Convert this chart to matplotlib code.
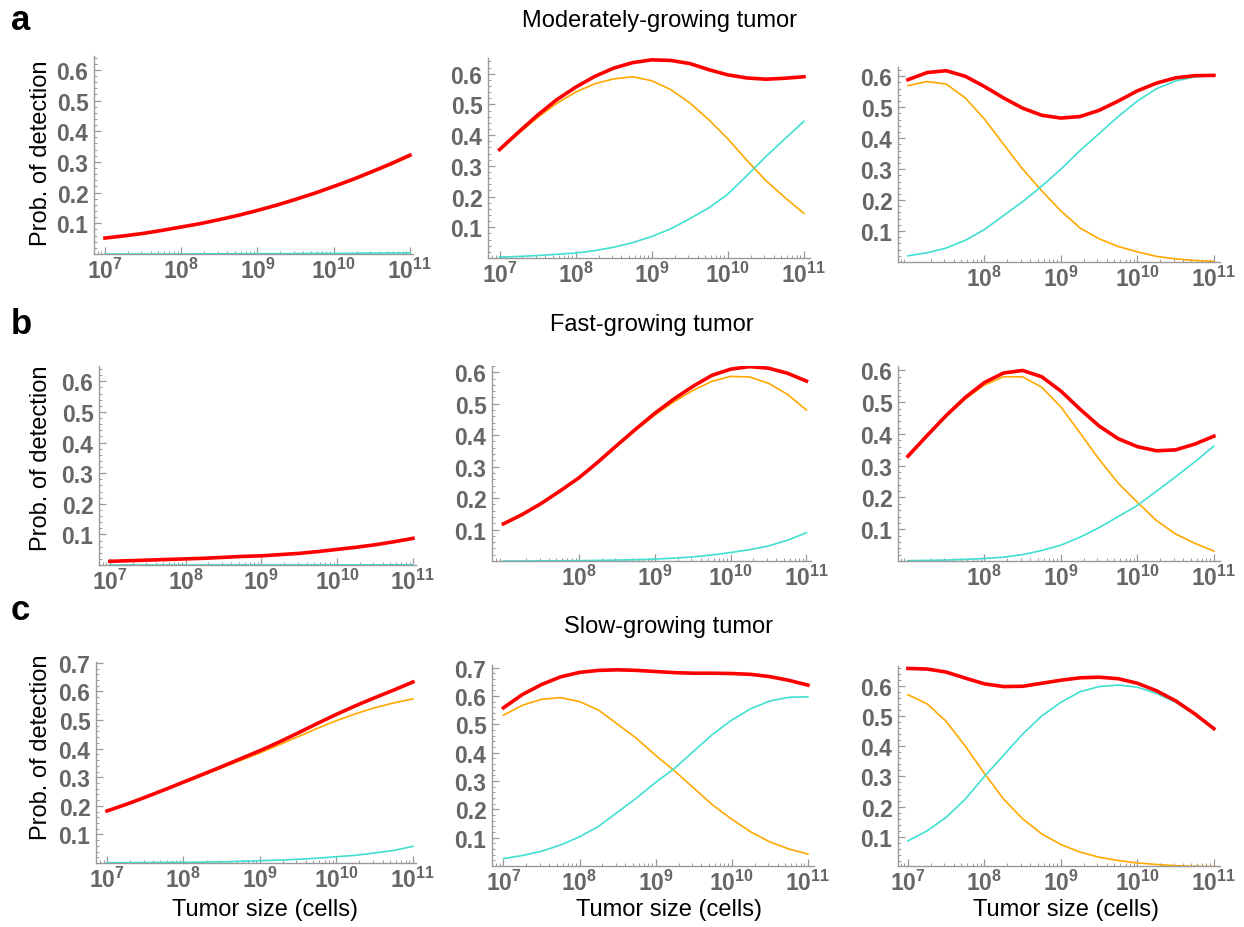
import matplotlib
matplotlib.use("Agg")
import matplotlib.pyplot as plt
from matplotlib.ticker import FixedLocator, FixedFormatter, LogLocator, NullFormatter, MultipleLocator

plt.rcParams['font.family'] = ['Liberation Sans', 'DejaVu Sans']
plt.rcParams['mathtext.fontset'] = 'custom'
plt.rcParams['mathtext.rm'] = 'Liberation Sans'
plt.rcParams['mathtext.bf'] = 'Liberation Sans:bold'

# ---------------- data ----------------
tumor_size = [1.00e7, 1.78e7, 3.16e7, 5.62e7, 1.00e8, 1.78e8, 3.16e8, 5.62e8,
              1.00e9, 1.78e9, 3.16e9, 5.62e9, 1.00e10, 1.78e10, 3.16e10, 5.62e10, 1.00e11]

# row a: moderately-growing tumor
a1_red    = [0.052, 0.059, 0.067, 0.077, 0.088, 0.099, 0.112, 0.126, 0.142, 0.159, 0.178, 0.198, 0.220, 0.243, 0.268, 0.294, 0.322]
a1_orange = [0.052, 0.059, 0.067, 0.077, 0.088, 0.098, 0.111, 0.125, 0.141, 0.158, 0.176, 0.196, 0.218, 0.240, 0.265, 0.290, 0.318]
a1_cyan   = [0.000, 0.000, 0.000, 0.000, 0.000, 0.0005, 0.0005, 0.001, 0.001, 0.001, 0.0015, 0.002, 0.002, 0.0025, 0.003, 0.0035, 0.004]

a2_red    = [0.353, 0.410, 0.465, 0.515, 0.556, 0.591, 0.618, 0.636, 0.645, 0.643, 0.633, 0.613, 0.596, 0.586, 0.582, 0.585, 0.590]
a2_orange = [0.350, 0.405, 0.457, 0.503, 0.540, 0.567, 0.583, 0.590, 0.577, 0.548, 0.505, 0.450, 0.388, 0.318, 0.252, 0.197, 0.145]
a2_cyan   = [0.003, 0.005, 0.008, 0.012, 0.016, 0.024, 0.035, 0.050, 0.070, 0.095, 0.128, 0.163, 0.208, 0.268, 0.330, 0.388, 0.445]

a3_red    = [0.589, 0.612, 0.618, 0.600, 0.567, 0.530, 0.497, 0.474, 0.465, 0.470, 0.490, 0.520, 0.553, 0.578, 0.595, 0.602, 0.603]
a3_orange = [0.570, 0.583, 0.575, 0.530, 0.462, 0.380, 0.300, 0.230, 0.165, 0.110, 0.075, 0.050, 0.033, 0.018, 0.010, 0.005, 0.002]
a3_cyan   = [0.020, 0.030, 0.045, 0.070, 0.105, 0.150, 0.195, 0.245, 0.300, 0.360, 0.415, 0.470, 0.520, 0.560, 0.585, 0.598, 0.602]

# row b: fast-growing tumor
b1_red    = [0.012, 0.014, 0.016, 0.018, 0.020, 0.022, 0.025, 0.028, 0.030, 0.034, 0.038, 0.044, 0.051, 0.058, 0.066, 0.076, 0.087]
b1_orange = [0.012, 0.014, 0.016, 0.018, 0.020, 0.022, 0.025, 0.028, 0.030, 0.034, 0.038, 0.044, 0.050, 0.057, 0.065, 0.075, 0.086]
b1_cyan   = [0.000, 0.000, 0.000, 0.000, 0.000, 0.000, 0.000, 0.000, 0.000, 0.000, 0.0002, 0.0003, 0.0004, 0.0005, 0.0006, 0.0007, 0.0008]

b2_red    = [0.118, 0.148, 0.183, 0.223, 0.265, 0.315, 0.368, 0.420, 0.470, 0.515, 0.555, 0.590, 0.610, 0.618, 0.613, 0.597, 0.572]
b2_orange = [0.118, 0.148, 0.183, 0.223, 0.264, 0.313, 0.365, 0.416, 0.464, 0.506, 0.542, 0.571, 0.587, 0.585, 0.565, 0.530, 0.480]
b2_cyan   = [0.000, 0.000, 0.0005, 0.0007, 0.001, 0.002, 0.003, 0.004, 0.006, 0.009, 0.013, 0.019, 0.027, 0.036, 0.048, 0.066, 0.090]

b3_red    = [0.330, 0.395, 0.458, 0.515, 0.562, 0.592, 0.600, 0.580, 0.535, 0.478, 0.425, 0.385, 0.360, 0.347, 0.350, 0.368, 0.393]
b3_orange = [0.329, 0.393, 0.455, 0.510, 0.554, 0.580, 0.580, 0.547, 0.485, 0.403, 0.320, 0.245, 0.185, 0.127, 0.085, 0.056, 0.031]
b3_cyan   = [0.001, 0.002, 0.003, 0.005, 0.008, 0.012, 0.020, 0.033, 0.050, 0.075, 0.105, 0.140, 0.175, 0.220, 0.265, 0.312, 0.362]

# row c: slow-growing tumor
c1_red    = [0.182, 0.205, 0.230, 0.256, 0.283, 0.310, 0.337, 0.365, 0.393, 0.423, 0.455, 0.488, 0.520, 0.550, 0.578, 0.605, 0.633]
c1_orange = [0.181, 0.204, 0.228, 0.254, 0.280, 0.306, 0.333, 0.359, 0.385, 0.413, 0.442, 0.471, 0.498, 0.522, 0.543, 0.560, 0.574]
c1_cyan   = [0.001, 0.001, 0.0015, 0.002, 0.0025, 0.003, 0.004, 0.006, 0.008, 0.010, 0.013, 0.017, 0.022, 0.027, 0.035, 0.044, 0.058]

c2_red    = [0.558, 0.605, 0.640, 0.667, 0.683, 0.690, 0.692, 0.690, 0.686, 0.682, 0.680, 0.680, 0.679, 0.676, 0.668, 0.655, 0.638]
c2_orange = [0.532, 0.567, 0.588, 0.594, 0.580, 0.550, 0.500, 0.450, 0.390, 0.335, 0.275, 0.215, 0.165, 0.120, 0.085, 0.060, 0.042]
c2_cyan   = [0.026, 0.037, 0.052, 0.074, 0.103, 0.140, 0.190, 0.240, 0.295, 0.345, 0.405, 0.465, 0.515, 0.555, 0.582, 0.595, 0.597]

c3_red    = [0.657, 0.655, 0.645, 0.625, 0.606, 0.597, 0.598, 0.608, 0.618, 0.626, 0.628, 0.623, 0.608, 0.583, 0.550, 0.507, 0.458]
c3_orange = [0.570, 0.540, 0.482, 0.400, 0.310, 0.225, 0.160, 0.110, 0.075, 0.050, 0.033, 0.022, 0.014, 0.009, 0.005, 0.003, 0.002]
c3_cyan   = [0.087, 0.120, 0.165, 0.225, 0.300, 0.370, 0.440, 0.500, 0.545, 0.580, 0.597, 0.602, 0.595, 0.574, 0.545, 0.504, 0.456]

titles = ["Moderately-growing tumor", "Fast-growing tumor", "Slow-growing tumor"]
letters = ["a", "b", "c"]
x_exps_full = [7, 8, 9, 10, 11]
x_exps_short = [8, 9, 10, 11]

# ---------------- layout ----------------
W, H = 1244, 928
fig = plt.figure(figsize=(W / 100, H / 100), dpi=100)

RED = "#ff0000"
ORANGE = "#ffa800"
CYAN = "#40e0d0"
AXC = "#999999"
TICKC = "#666666"
TXT = 17
TICKFS = 16.5

# (left, right, top, bottom) in px, xlim exps, ylim, x tick exps, y major max
panels = [
    ((94, 413, 57, 255), (6.856, 11.04), (0.0, 0.645), x_exps_full, 0.6, a1_red, a1_orange, a1_cyan),
    ((488, 810, 59, 259), (6.848, 11.08), (0.0, 0.651), x_exps_full, 0.6, a2_red, a2_orange, a2_cyan),
    ((898, 1220, 68, 263), (6.87, 11.08), (0.0, 0.630), x_exps_short, 0.6, a3_red, a3_orange, a3_cyan),
    ((99, 416, 367, 566), (6.856, 11.04), (0.0, 0.650), x_exps_full, 0.6, b1_red, b1_orange, b1_cyan),
    ((492, 811, 367, 562), (6.85, 11.06), (0.0, 0.620), x_exps_short, 0.6, b2_red, b2_orange, b2_cyan),
    ((898, 1220, 367, 562), (6.87, 11.08), (0.0, 0.614), x_exps_short, 0.6, b3_red, b3_orange, b3_cyan),
    ((96, 416, 663, 864), (6.856, 11.04), (0.0, 0.703), x_exps_full, 0.7, c1_red, c1_orange, c1_cyan),
    ((492, 814, 666, 867), (6.85, 11.08), (0.0, 0.709), x_exps_full, 0.7, c2_red, c2_orange, c2_cyan),
    ((898, 1220, 667, 867), (6.87, 11.08), (0.004, 0.665), x_exps_full, 0.6, c3_red, c3_orange, c3_cyan),
]

for i, (box, xl, yl, xexps, ymax, red, orange, cyan) in enumerate(panels):
    l, r, t, b = box
    ax = fig.add_axes([l / W, 1 - b / H, (r - l) / W, (b - t) / H])
    ax.plot(tumor_size, orange, color=ORANGE, lw=1.2)
    ax.plot(tumor_size, cyan, color=CYAN, lw=1.2)
    ax.plot(tumor_size, red, color=RED, lw=2.6)
    ax.set_xscale('log')
    ax.set_xlim(10 ** xl[0], 10 ** xl[1])
    ax.set_ylim(*yl)
    for s in ['top', 'right']:
        ax.spines[s].set_visible(False)
    for s in ['left', 'bottom']:
        ax.spines[s].set_color(AXC)
        ax.spines[s].set_linewidth(1.0)
    ax.xaxis.set_major_locator(FixedLocator([10.0 ** e for e in xexps]))
    ax.xaxis.set_major_formatter(FixedFormatter([r'$\mathbf{10^{%d}}$' % e for e in xexps]))
    ax.xaxis.set_minor_locator(LogLocator(base=10, subs=[2, 3, 4, 5, 6, 7, 8, 9], numticks=20))
    ax.xaxis.set_minor_formatter(NullFormatter())
    nmaj = int(round(ymax * 10))
    yt = [k / 10 for k in range(1, nmaj + 1)]
    ax.yaxis.set_major_locator(FixedLocator(yt))
    ax.yaxis.set_major_formatter(FixedFormatter(['%.1f' % v for v in yt]))
    ax.yaxis.set_minor_locator(MultipleLocator(0.02))
    ax.tick_params(axis='both', which='major', direction='in', length=5, width=0.9,
                   color=AXC, labelcolor=TICKC, labelsize=TICKFS)
    ax.tick_params(axis='both', which='minor', direction='in', length=2.5, width=0.7, color=AXC)
    ax.tick_params(axis='x', which='major', pad=3)
    ax.tick_params(axis='y', which='major', pad=4)
    for lab in ax.get_yticklabels():
        lab.set_fontweight('bold')

# titles, letters, labels
fig.text(660 / W, 1 - 21 / H, titles[0], ha='center', va='center', fontsize=TXT)
fig.text(652 / W, 1 - 325 / H, titles[1], ha='center', va='center', fontsize=TXT)
fig.text(668 / W, 1 - 627 / H, titles[2], ha='center', va='center', fontsize=TXT)

fig.text(11 / W, 1 - 20 / H, letters[0], ha='left', va='center', fontsize=25, fontweight='bold')
fig.text(11 / W, 1 - 325 / H, letters[1], ha='left', va='center', fontsize=25, fontweight='bold')
fig.text(11 / W, 1 - 611 / H, letters[2], ha='left', va='center', fontsize=25, fontweight='bold')

for yc in [153, 458, 747]:
    fig.text(41 / W, 1 - yc / H, "Prob. of detection", rotation=90, ha='center', va='center', fontsize=TXT)

for xc in [265, 669, 1066]:
    fig.text(xc / W, 1 - 910 / H, "Tumor size (cells)", ha='center', va='center', fontsize=TXT)

fig.savefig("out.png", dpi=100)
